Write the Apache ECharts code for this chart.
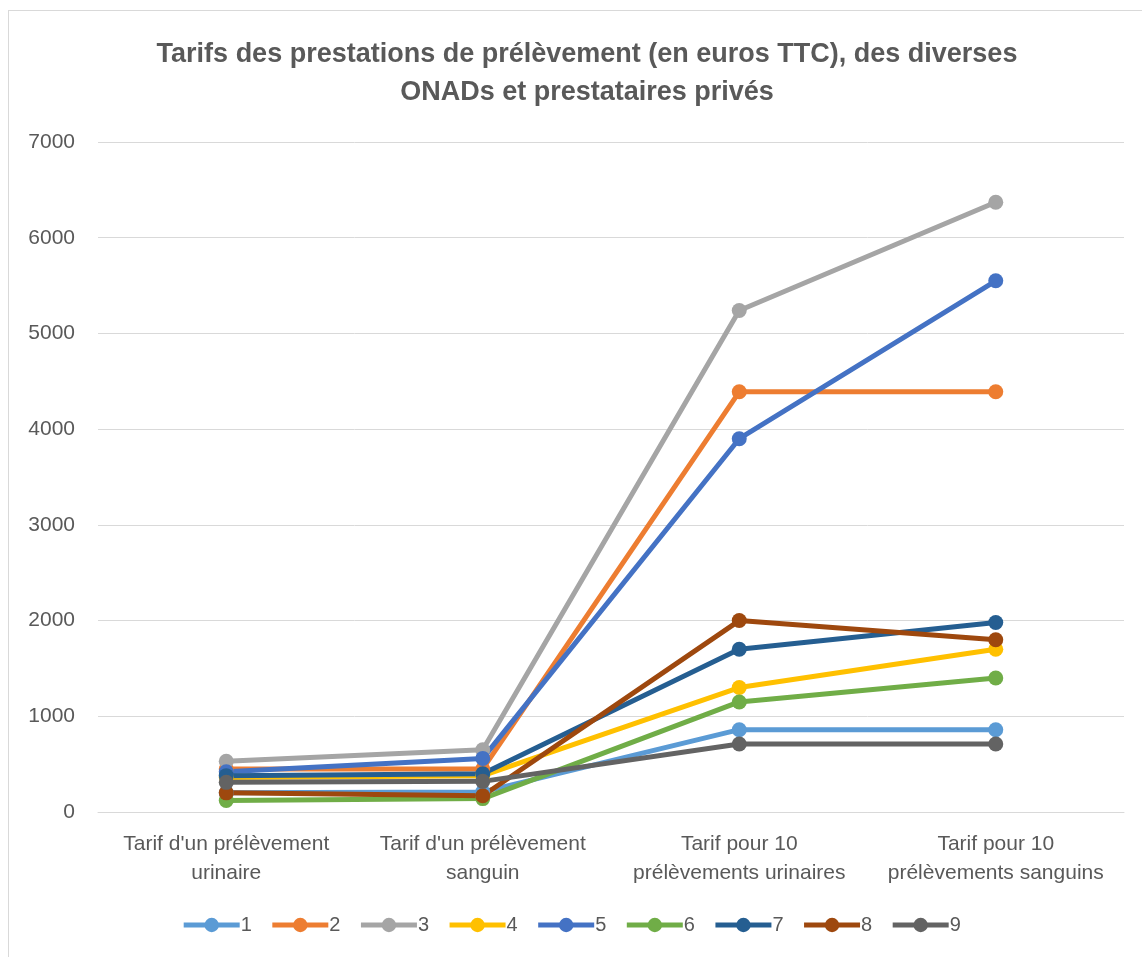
<!DOCTYPE html>
<html>
<head>
<meta charset="utf-8">
<script src="https://cdn.jsdelivr.net/npm/echarts@6/dist/echarts.min.js"></script>
<style>
  html, body { margin: 0; padding: 0; background: #fff; }
  .frame { position: absolute; left: 8px; top: 10px; width: 1140px; height: 950px; border: 1px solid #d9d9d9; box-sizing: border-box; }
  #chart { position: absolute; left: 0; top: 0; width: 1142px; height: 957px; }
</style>
</head>
<body>
<div class="frame"></div>
<div id="chart"></div>
<script>
  // catégories (axe x)
  const categories = [
    "Tarif d'un prélèvement\nurinaire",
    "Tarif d'un prélèvement\nsanguin",
    'Tarif pour 10\nprélèvements urinaires',
    'Tarif pour 10\nprélèvements sanguins'
  ]
  const seriesNames = ['1', '2', '3', '4', '5', '6', '7', '8', '9']
  const colors = ['#5B9BD5', '#ED7D31', '#A5A5A5', '#FFC000', '#4472C4', '#70AD47', '#255E91', '#9E480E', '#636363']

  // valeurs
  const s1 = [200, 210, 860, 860]
  const s2 = [450, 450, 4390, 4390]
  const s3 = [530, 650, 5240, 6370]
  const s4 = [360, 380, 1300, 1700]
  const s5 = [420, 560, 3900, 5550]
  const s6 = [120, 140, 1150, 1400]
  const s7 = [380, 400, 1700, 1980]
  const s8 = [200, 170, 2000, 1800]
  const s9 = [310, 320, 710, 710]
  const values = [s1, s2, s3, s4, s5, s6, s7, s8, s9]

  const font = '"Liberation Sans", "DejaVu Sans", sans-serif'
  const myChart = echarts.init(document.getElementById('chart'))

  const option = {
    animation: false,
    color: colors,
    title: {
      text: 'Tarifs des prestations de prélèvement (en euros TTC), des diverses\nONADs et prestataires privés',
      left: 582,
      top: 31,
      textAlign: 'center',
      textStyle: {
        color: '#595959',
        fontFamily: font,
        fontWeight: 'bold',
        fontSize: 27,
        lineHeight: 38
      }
    },
    legend: {
      bottom: 17,
      left: 'center',
      itemWidth: 56,
      itemHeight: 18,
      itemGap: 18,
      lineStyle: { width: 5 },
      textStyle: { color: '#595959', fontSize: 20, fontFamily: font, padding: [0, 0, 0, -4] },
      data: seriesNames
    },
    grid: {
      left: 98,
      right: 18,
      top: 142,
      bottom: 145
    },
    xAxis: {
      type: 'category',
      boundaryGap: true,
      data: categories,
      axisLine: { lineStyle: { color: '#d9d9d9', width: 1 } },
      axisTick: { show: false },
      axisLabel: {
        color: '#595959',
        fontSize: 21,
        fontFamily: font,
        lineHeight: 29,
        margin: 18,
        interval: 0
      }
    },
    yAxis: {
      type: 'value',
      min: 0,
      max: 7000,
      interval: 1000,
      axisLine: { show: false },
      axisTick: { show: false },
      splitLine: { lineStyle: { color: '#d9d9d9', width: 1 } },
      axisLabel: {
        color: '#595959',
        fontSize: 21,
        fontFamily: font,
        margin: 23,
        formatter: (v) => String(v)
      }
    },
    series: seriesNames.map((name, i) => ({
      name,
      type: 'line',
      data: values[i],
      symbol: 'circle',
      symbolSize: 15,
      lineStyle: { width: 5 },
      itemStyle: { color: colors[i] }
    }))
  }

  myChart.setOption(option)
  window.addEventListener('resize', () => myChart.resize())
</script>
</body>
</html>
